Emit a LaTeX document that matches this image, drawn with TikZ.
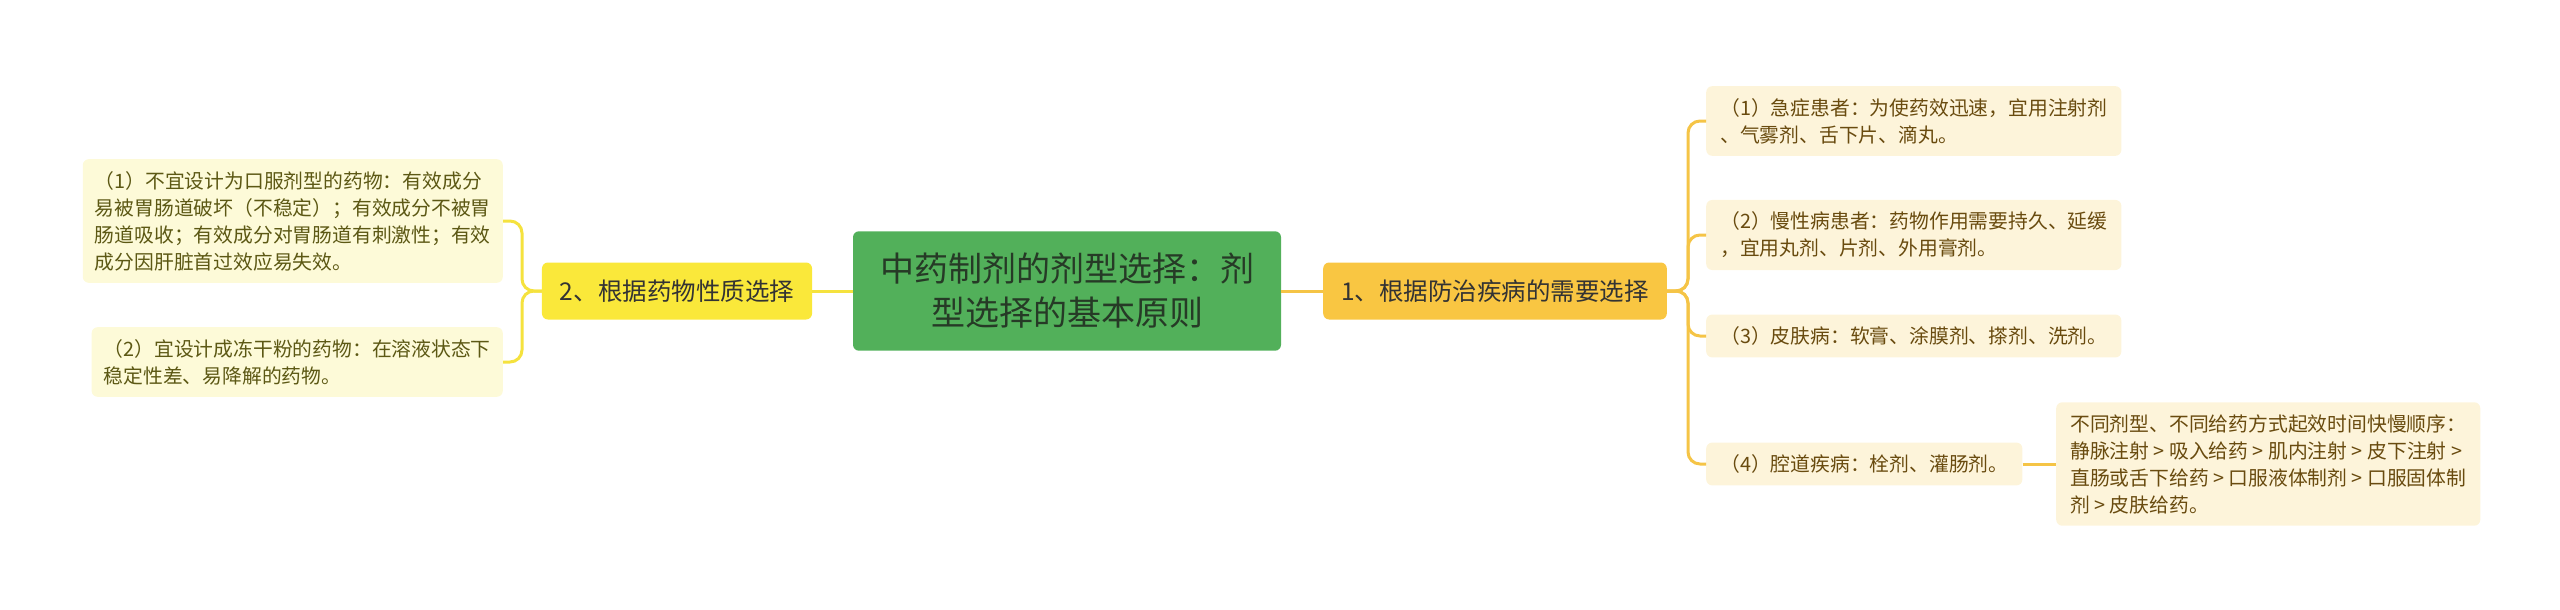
\documentclass[tikz,border=0pt]{standalone}
\usepackage{fontspec}
\setmainfont{Noto Sans CJK SC}
\definecolor{rootgreen}{RGB}{82,176,90}
\definecolor{roottext}{RGB}{38,58,38}
\definecolor{leftyellow}{RGB}{250,232,58}
\definecolor{rightorange}{RGB}{249,198,66}
\definecolor{leftcream}{RGB}{253,250,216}
\definecolor{rightcream}{RGB}{253,244,218}
\definecolor{lefttext}{RGB}{92,88,20}
\definecolor{righttext}{RGB}{105,75,15}
\definecolor{leftline}{RGB}{245,226,62}
\definecolor{rightline}{RGB}{245,196,70}

\begin{document}
\begin{tikzpicture}[x=1pt,y=-1pt,
  rootbox/.style={fill=rootgreen,text=roottext,rounded corners=6,align=center,
    font=\fontsize{34}{44}\selectfont,inner xsep=27,inner ysep=22},
  lbranch/.style={fill=leftyellow,text=black!80,rounded corners=6,
    font=\fontsize{24.5}{30}\selectfont,inner xsep=18,minimum height=57},
  rbranch/.style={fill=rightorange,text=black!80,rounded corners=6,
    font=\fontsize{24.5}{30}\selectfont,inner xsep=18,minimum height=57},
  lleaf/.style={fill=leftcream,text=lefttext,rounded corners=6,align=left,
    font=\fontsize{19.8}{27}\selectfont,inner xsep=12,inner ysep=12,anchor=east},
  rleaf/.style={fill=rightcream,text=righttext,rounded corners=6,align=left,
    font=\fontsize{19.8}{27}\selectfont,inner xsep=14,inner ysep=12,anchor=west},
  lline/.style={draw=leftline,line width=3,rounded corners=12},
  rline/.style={draw=rightline,line width=3,rounded corners=12}]
  \useasboundingbox (0,0) rectangle (2560,610);

  \node[rootbox] (A) at (1067,291) {中药制剂的剂型选择：剂\\型选择的基本原则};
  \node[rbranch] (B) at (1495,291) {1、根据防治疾病的需要选择};
  \node[lbranch] (C) at (677,291) {2、根据药物性质选择};

  \node[rleaf] (D) at (1706,121) {（1）急症患者：为使药效迅速，宜用注射剂\\、气雾剂、舌下片、滴丸。};
  \node[rleaf] (E) at (1706,235) {（2）慢性病患者：药物作用需要持久、延缓\\，宜用丸剂、片剂、外用膏剂。};
  \node[rleaf] (F) at (1706,336) {（3）皮肤病：软膏、涂膜剂、搽剂、洗剂。};
  \node[rleaf] (G) at (1706,464) {（4）腔道疾病：栓剂、灌肠剂。};
  \node[rleaf] (H) at (2056,464) {不同剂型、不同给药方式起效时间快慢顺序：\\静脉注射 > 吸入给药 > 肌内注射 > 皮下注射 >\\直肠或舌下给药 > 口服液体制剂 > 口服固体制\\剂 > 皮肤给药。};

  \node[lleaf] (a) at (503,221) {（1）不宜设计为口服剂型的药物：有效成分\\易被胃肠道破坏（不稳定）；有效成分不被胃\\肠道吸收；有效成分对胃肠道有刺激性；有效\\成分因肝脏首过效应易失效。};
  \node[lleaf] (b) at (503,362) {（2）宜设计成冻干粉的药物：在溶液状态下\\稳定性差、易降解的药物。};

  \coordinate (rt) at (1688,291);
  \coordinate (lt) at (522,291);

  \draw[rline] (A) -- (B);
  \draw[lline] (A) -- (C);
  \draw[rline] (B.east) -- (rt) |- (D.west);
  \draw[rline] (B.east) -- (rt) |- (E.west);
  \draw[rline] (B.east) -- (rt) |- (F.west);
  \draw[rline] (B.east) -- (rt) |- (G.west);
  \draw[rline] (G) -- (H);
  \draw[lline] (C.west) -- (lt) |- (a.east);
  \draw[lline] (C.west) -- (lt) |- (b.east);
\end{tikzpicture}
\end{document}
